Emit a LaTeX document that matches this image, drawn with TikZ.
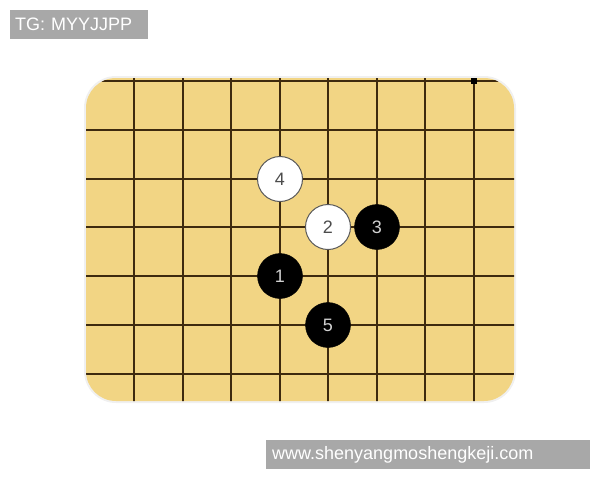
\documentclass[tikz,border=0pt]{standalone}
\usepackage{fontspec}
\setsansfont{Liberation Sans}
\usetikzlibrary{positioning}
\definecolor{boardwood}{RGB}{242,213,132}
\definecolor{gridline}{RGB}{62,42,14}
\definecolor{tagfill}{RGB}{168,168,168}

\begin{document}
\begin{tikzpicture}[x=1pt,y=-1pt,
  white stone/.style={circle,draw=black!65,line width=1pt,fill=white,minimum size=45pt,inner sep=0pt,font=\sffamily\fontsize{18}{18}\selectfont,text=black!70},
  black stone/.style={circle,draw=black,fill=black,minimum size=45pt,inner sep=0pt,font=\sffamily\fontsize{18}{18}\selectfont,text=black!18},
  tag box/.style={fill=tagfill,text=white,font=\sffamily\fontsize{18}{18}\selectfont,inner xsep=5pt,inner ysep=0pt,minimum height=29pt,anchor=north west,align=left}]

  \useasboundingbox (0,0) rectangle (600,480);

  % board
  \fill[black!6,rounded corners=32] (84,76) rectangle (516,403);
  \fill[boardwood,rounded corners=30] (86,78) rectangle (514,401);
  \begin{scope}
    \clip[rounded corners=30] (86,78) rectangle (514,401);
    \foreach \x in {134,183,231,280,328,377,425,474}
      \draw[gridline,line width=2pt] (\x,70) -- (\x,410);
    \foreach \y in {81,130,179,227,276,325,374}
      \draw[gridline,line width=2pt] (80,\y) -- (520,\y);
  \end{scope}
  \fill[black] (471,78) rectangle (477,84);

  % stones
  \node[white stone] (4) at (280,179) {4};
  \node[white stone] (2) at (328,227) {2};
  \node[black stone] (3) at (377,227) {3};
  \node[black stone] (1) at (280,276) {1};
  \node[black stone] (5) at (328,325) {5};

  % tags
  \node[tag box,text width=128pt] (tg) at (10,10) {TG: MYYJJPP};
  \node[tag box,text width=312pt,inner xsep=6pt] (site) at (266,440) {www.shenyangmoshengkeji.com};
\end{tikzpicture}
\end{document}
